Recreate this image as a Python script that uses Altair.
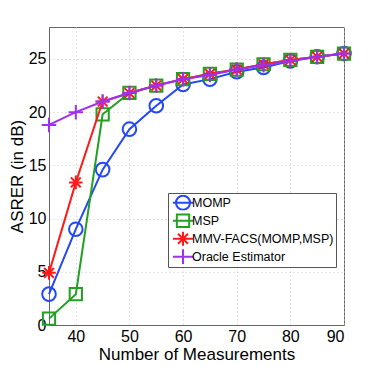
import altair as alt
import pandas as pd

measurements = [35, 40, 45, 50, 55, 60, 65, 70, 75, 80, 85, 90]
momp = [2.9, 9.0, 14.6, 18.4, 20.6, 22.6, 23.1, 23.8, 24.2, 24.8, 25.2, 25.5]
msp = [0.6, 2.9, 19.8, 21.8, 22.5, 23.1, 23.6, 24.0, 24.5, 24.9, 25.2, 25.5]
mmv = [4.9, 13.4, 21.0, 21.8, 22.5, 23.1, 23.6, 24.0, 24.5, 24.9, 25.2, 25.5]
oracle = [18.8, 20.0, 21.0, 21.8, 22.5, 23.1, 23.5, 24.0, 24.4, 24.8, 25.2, 25.5]

names = ["MOMP", "MSP", "MMV-FACS(MOMP,MSP)", "Oracle Estimator"]
series = [momp, msp, mmv, oracle]
colors = ["#2448f5", "#22a022", "#ff1a1a", "#a030f0"]

circle = "M-1,0A1,1 0 1 1 1,0A1,1 0 1 1 -1,0Z"
square = "M-1,-1L1,-1L1,1L-1,1Z"
aster = "M-1,0L1,0M0,-1L0,1M-0.72,-0.72L0.72,0.72M-0.72,0.72L0.72,-0.72"
plus = "M-1,0L1,0M0,-1L0,1"
shapes = [circle, square, aster, plus]
sizes = [185, 150, 185, 210]

# legend symbols: line + marker
lc = "M-1.55,0L1.55,0M-1.08,0A1.08,1.08 0 1 1 1.08,0A1.08,1.08 0 1 1 -1.08,0"
ls = "M-1.55,0L1.55,0M-0.95,-0.95L0.95,-0.95L0.95,0.95L-0.95,0.95Z"
la = "M-1.55,0L1.55,0M0,-1.08L0,1.08M-0.76,-0.76L0.76,0.76M-0.76,0.76L0.76,-0.76"
lp = "M-1.55,0L1.55,0M0,-1.15L0,1.15"
legend_shapes = [lc, ls, la, lp]

rows = []
for n, vals in zip(names, series):
    for m, v in zip(measurements, vals):
        rows.append({"series": n, "m": m, "v": v})
df = pd.DataFrame(rows)

font = "Liberation Sans"
xs = alt.Scale(domain=[35, 90], nice=False, zero=False)
ys = alt.Scale(domain=[0, 28], nice=False)

layers = []
for n, c, s, sz in zip(names, colors, shapes, sizes):
    d = df[df.series == n]
    base = alt.Chart(d)
    line = base.mark_line(color=c, strokeWidth=2).encode(
        x=alt.X("m:Q", scale=xs,
                axis=alt.Axis(title="Number of Measurements", values=[40, 50, 60, 70, 80, 90])),
        y=alt.Y("v:Q", scale=ys,
                axis=alt.Axis(title="ASRER (in dB)", values=[0, 5, 10, 15, 20, 25])),
    )
    pts = base.mark_point(shape=s, color=c, filled=False, strokeWidth=2, size=sz, opacity=1).encode(
        x=alt.X("m:Q", scale=xs), y=alt.Y("v:Q", scale=ys)
    )
    layers += [line, pts]

legend_layer = alt.Chart(df).mark_point(filled=False, opacity=0, size=1).encode(
    x=alt.X("m:Q", scale=xs),
    y=alt.Y("v:Q", scale=ys),
    color=alt.Color("series:N", scale=alt.Scale(domain=names, range=colors),
                    legend=alt.Legend(title=None, orient="none", legendX=119, legendY=166,
                                      symbolSize=169, symbolStrokeWidth=2, symbolOpacity=1,
                                      symbolOffset=5.5, clipHeight=15.5,
                                      labelFont=font, labelFontSize=12.5, labelColor="#000",
                                      labelOffset=1.5, rowPadding=2, padding=2,
                                      strokeColor="#555", fillColor="white",
                                      symbolFillColor="transparent", labelLimit=300)),
    shape=alt.Shape("series:N", scale=alt.Scale(domain=names, range=legend_shapes), legend=None),
)

chart = alt.layer(*layers, legend_layer).properties(
    width=295, height=298,
    autosize="none",
    padding={"left": 41, "top": 19, "right": 29, "bottom": 42},
).configure_view(stroke="#666", strokeWidth=1).configure_axis(
    labelFont=font, titleFont=font, labelFontSize=16, titleFontSize=17,
    labelColor="#000", titleColor="#000", titleFontWeight="normal",
    grid=True, gridColor="#c8c8c8", gridDash=[1, 3], gridWidth=1,
    domainColor="#666", tickColor="#666", ticks=False, labelPadding=4,
).configure_axisY(titlePadding=2, labelPadding=3).configure_axisX(titlePadding=2, labelPadding=3)

chart.save("out.html", embed_options={"renderer": "svg", "actions": False})
